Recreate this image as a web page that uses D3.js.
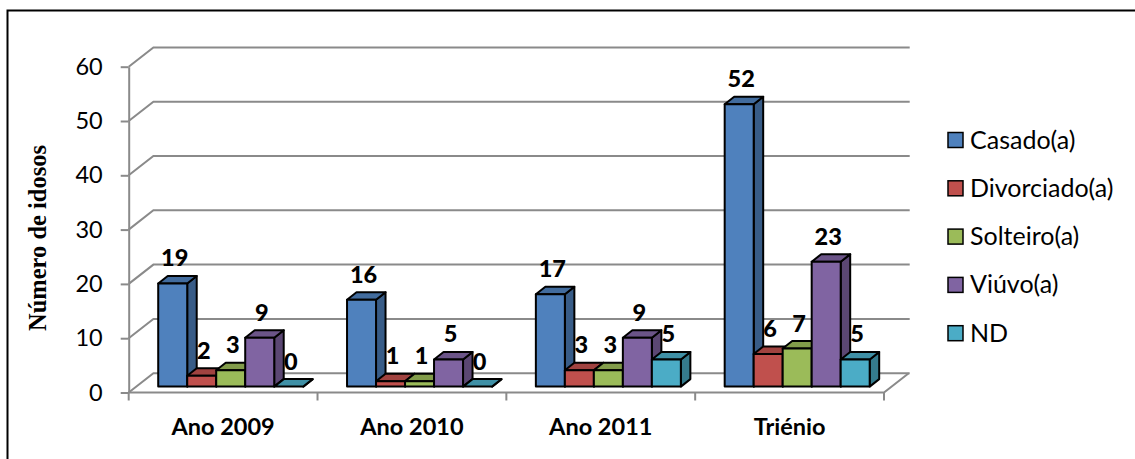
<!doctype html>
<html lang="pt">
<head>
<meta charset="utf-8">
<title>Número de idosos por estado civil</title>
<script src="https://cdn.jsdelivr.net/npm/d3@7"></script>
<style>
  body { margin: 0; background: #fff; }
  svg { display: block; font-family: Lato, "Open Sans", sans-serif; }
</style>
</head>
<body>
<svg width="1135" height="459"></svg>
<script>
// data
var categories = ['Ano 2009', 'Ano 2010', 'Ano 2011', 'Triénio'];
var seriesNames = ['Casado(a)', 'Divorciado(a)', 'Solteiro(a)', 'Viúvo(a)', 'ND'];
var casado     = [19, 16, 17, 52];
var divorciado = [2, 1, 3, 6];
var solteiro   = [3, 1, 3, 7];
var viuvo      = [9, 5, 9, 23];
var nd         = [0, 0, 5, 5];
var yTicks = [0, 10, 20, 30, 40, 50, 60];
var colors = ['#4F81BD', '#C0504D', '#9BBB59', '#8064A2', '#4BACC6'];

var seriesValues = [casado, divorciado, solteiro, viuvo, nd];

var svg = d3.select('svg');

// frame round the whole thing
svg.append('rect')
  .attr('x', 7.5).attr('y', 10.5)
  .attr('width', 1140).attr('height', 470)
  .attr('fill', 'none').attr('stroke', '#000').attr('stroke-width', 2);

var gridColor = '#8a8a8a';
var wall = {x: 24.7, y: -19.3};   // depth of the back wall
var bd = {x: 9.5, y: -7.5};       // depth of a bar
var bf = {x: 7.6, y: -5.9};       // bars sit in the middle of the floor

var x0 = 128.7, x1 = 884;
var y = d3.scaleLinear().domain([0, 60]).range([392.5, 66.7]);
var xCat = d3.scaleBand().domain(categories).range([x0, x1]);
var xSer = d3.scaleBand().domain(seriesNames).range([0, 145]);
var groupOff = (xCat.bandwidth() - 145) / 2;

// side wall + back wall gridlines
svg.append('g').selectAll('path')
  .data(yTicks)
  .join('path')
  .attr('d', function(v) {
    var yy = y(v);
    return 'M' + x0 + ',' + yy + 'L' + (x0 + wall.x) + ',' + (yy + wall.y) + 'L' + (x1 + wall.x + 1) + ',' + (yy + wall.y);
  })
  .attr('fill', 'none').attr('stroke', gridColor).attr('stroke-width', 2);

// floor front edge and right edge
svg.append('path')
  .attr('d', 'M' + x0 + ',' + y(0) + 'L' + x1 + ',' + y(0) + 'L' + (x1 + wall.x) + ',' + (y(0) + wall.y))
  .attr('fill', 'none').attr('stroke', gridColor).attr('stroke-width', 2);

// category tick marks at band boundaries
var bounds = categories.map(function(c) { return xCat(c); }).concat([x1]);
svg.append('g').selectAll('line')
  .data(bounds)
  .join('line')
  .attr('x1', d => d).attr('x2', d => d)
  .attr('y1', y(0)).attr('y2', y(0) + 8)
  .attr('stroke', gridColor).attr('stroke-width', 2);

// y axis
var yAxis = svg.append('g')
  .attr('transform', 'translate(' + x0 + ',0)')
  .call(d3.axisLeft(y).tickValues(yTicks).tickSize(8).tickSizeOuter(0).tickPadding(18));
yAxis.select('.domain').attr('stroke', gridColor).attr('stroke-width', 2);
yAxis.selectAll('.tick line').attr('stroke', gridColor).attr('stroke-width', 2);
yAxis.selectAll('.tick text')
  .attr('font-family', 'Lato, sans-serif')
  .attr('font-size', 23.5).attr('fill', '#000');

// y title
svg.append('text')
  .attr('transform', 'translate(46,238) rotate(-90)')
  .attr('text-anchor', 'middle')
  .attr('font-family', '"Liberation Serif", "Times New Roman", serif')
  .attr('font-weight', 'bold').attr('font-size', 24.5)
  .text('Número de idosos');

// category labels
svg.append('g').selectAll('text')
  .data(categories)
  .join('text')
  .attr('x', d => xCat(d) + xCat.bandwidth() / 2)
  .attr('y', 435)
  .attr('text-anchor', 'middle')
  .attr('font-weight', 'bold').attr('font-size', 23.5)
  .text(d => d);

// flatten into one list of bars, left to right
var bars = [];
categories.forEach(function(c, ci) {
  seriesNames.forEach(function(s, si) {
    bars.push({cat: c, ser: s, si: si, value: seriesValues[si][ci]});
  });
});

var barG = svg.append('g');
bars.forEach(function(b) {
  var xl = xCat(b.cat) + groupOff + xSer(b.ser) + bf.x;
  var w = xSer.bandwidth();
  var yb = y(0) + bf.y;
  var yt = y(b.value) + bf.y;
  var c = colors[b.si];
  var g = barG.append('g')
    .attr('stroke', '#000').attr('stroke-width', 2).attr('stroke-linejoin', 'round');
  // side
  g.append('path')
    .attr('d', 'M' + (xl + w) + ',' + yb + 'L' + (xl + w + bd.x) + ',' + (yb + bd.y) +
      'L' + (xl + w + bd.x) + ',' + (yt + bd.y) + 'L' + (xl + w) + ',' + yt + 'Z')
    .attr('fill', d3.color(c).darker(0.95));
  // top
  g.append('path')
    .attr('d', 'M' + xl + ',' + yt + 'L' + (xl + w) + ',' + yt + 'L' + (xl + w + bd.x) + ',' + (yt + bd.y) +
      'L' + (xl + bd.x) + ',' + (yt + bd.y) + 'Z')
    .attr('fill', d3.color(c).darker(0.5));
  // front
  if (b.value > 0) {
    g.append('rect')
      .attr('x', xl).attr('y', yt)
      .attr('width', w).attr('height', yb - yt)
      .attr('fill', c);
  }
  b.lx = xl + w / 2 + 2;
  b.ly = yt - 17;
});

// value labels
svg.append('g').selectAll('text')
  .data(bars)
  .join('text')
  .attr('x', d => d.lx)
  .attr('y', d => d.ly)
  .attr('text-anchor', 'middle')
  .attr('font-weight', 900).attr('font-size', 23.5)
  .text(d => d.value);

// legend
var legend = svg.append('g').selectAll('g')
  .data(seriesNames)
  .join('g')
  .attr('transform', (d, i) => 'translate(948,' + (140 + i * 48.3) + ')');
legend.append('rect')
  .attr('x', 0).attr('y', -7.5).attr('width', 15).attr('height', 15)
  .attr('fill', (d, i) => colors[i]).attr('stroke', '#000').attr('stroke-width', 1.5);
legend.append('text')
  .attr('x', 22).attr('y', 8.5)
  .attr('font-size', 25)
  .text(d => d);
</script>
</body>
</html>
